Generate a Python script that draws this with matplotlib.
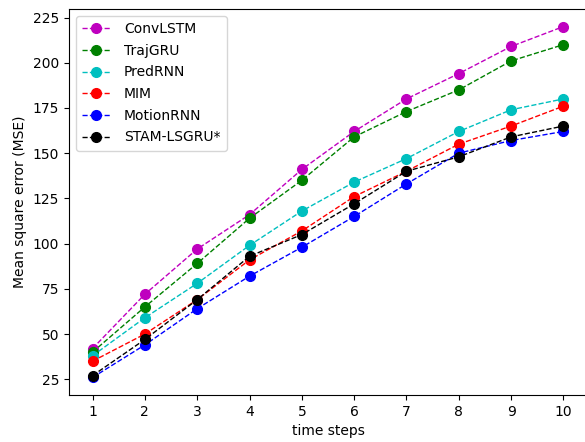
import matplotlib
matplotlib.use("Agg")
import matplotlib.pyplot as plt

steps = [1, 2, 3, 4, 5, 6, 7, 8, 9, 10]
convlstm = [42, 72, 97, 116, 141, 162, 180, 194, 209, 220]
trajgru = [40, 65, 89, 114, 135, 159, 173, 185, 201, 210]
predrnn = [38, 59, 78, 99, 118, 134, 147, 162, 174, 180]
mim = [35, 50, 69, 91, 107, 126, 140, 155, 165, 176]
motionrnn = [26, 44, 64, 82, 98, 115, 133, 150, 157, 162]
stam = [27, 47, 69, 93, 105, 122, 140, 148, 159, 165]

series = [
    ("ConvLSTM", convlstm, "m"),
    ("TrajGRU", trajgru, "g"),
    ("PredRNN", predrnn, "c"),
    ("MIM", mim, "r"),
    ("MotionRNN", motionrnn, "b"),
    ("STAM-LSGRU*", stam, "k"),
]

fig = plt.figure(figsize=(5.85, 4.42), dpi=100)
ax = fig.add_axes([69/585, 1-395/442, (586.5-68.5)/585, (395-9)/442])
for name, vals, c in series:
    ax.plot(steps, vals, "o--", color=c, label=name, markersize=7, linewidth=1)
ax.set_xticks(steps)
ax.set_xlabel("time steps")
ax.set_ylabel("Mean square error (MSE)")
ax.legend(loc="upper left", labelspacing=0.55, handletextpad=1.0,
          borderpad=0.45)
fig.savefig("out.png", dpi=100)
